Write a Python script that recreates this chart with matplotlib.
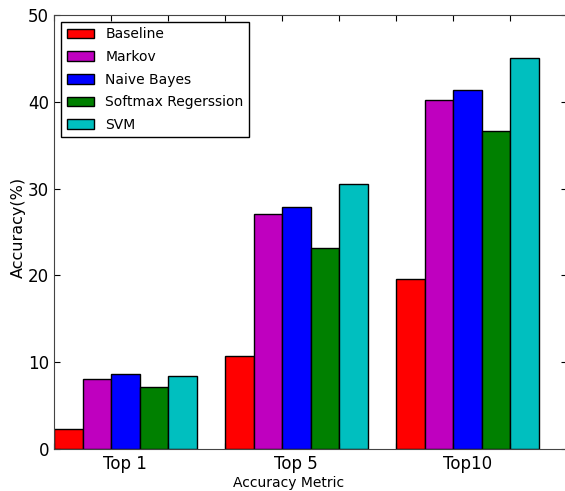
import numpy as np
import matplotlib.pyplot as plt

# accuracy values (Top 1, Top 5, Top 10)
metrics = ['Top 1', 'Top 5', 'Top10']
baseline = [2.3, 10.7, 19.6]
markov = [8.1, 27.1, 40.2]
naive_bayes = [8.6, 27.9, 41.4]
softmax = [7.2, 23.2, 36.6]
svm = [8.4, 30.5, 45.0]

series = [baseline, markov, naive_bayes, softmax, svm]
names = ['Baseline', 'Markov', 'Naive Bayes', 'Softmax Regerssion', 'SVM']
colors = ['r', 'm', 'b', 'g', 'c']

fig = plt.figure(figsize=(5.65, 4.91), dpi=100)
ax = fig.add_axes([54 / 565, 42 / 491, 513 / 565, 434 / 491])

width = 1.0
ind = np.arange(len(metrics)) * 6
for i, (vals, name, c) in enumerate(zip(series, names, colors)):
    ax.bar(ind + i * width, vals, width, color=c, edgecolor='black',
           linewidth=1.0, align='edge', label=name)

ax.set_xlim(0, 18)
ax.set_ylim(0, 50)
ax.set_xticks(np.arange(0, 19, 2))
ax.set_xticklabels([])
ax.set_xticks(ind + 2.5 * width, metrics, minor=True)
ax.tick_params(axis='x', which='minor', length=0, labelsize=12, pad=4)
ax.tick_params(axis='x', which='major', direction='in', top=True, length=4)
ax.tick_params(axis='y', direction='in', right=True, length=4, labelsize=12)
for s in ax.spines.values():
    s.set_color('#444444')

ax.set_xlabel('Accuracy Metric', fontsize=10)
ax.xaxis.set_label_coords(0.457, -0.062)
ax.set_ylabel('Accuracy(%)', fontsize=11.5)
ax.yaxis.set_label_coords(-0.055, 0.51)

leg = ax.legend(loc='upper left', fontsize=10, fancybox=False,
                framealpha=1, edgecolor='black', borderaxespad=0.5,
                handlelength=2, labelspacing=0.62)
leg.get_frame().set_linewidth(1.0)

plt.savefig('out.png', dpi=100)
